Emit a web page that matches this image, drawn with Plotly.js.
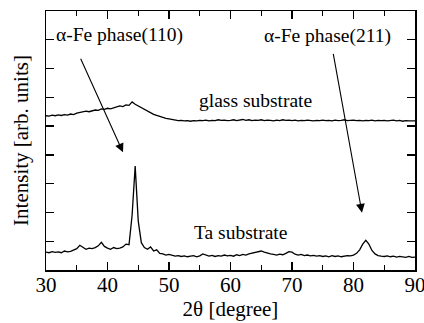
<!DOCTYPE html>
<html>
<head>
<meta charset="utf-8">
<script src="https://cdn.plot.ly/plotly-3.0.1.min.js"></script>
<style>
html,body{margin:0;padding:0;background:#fff;}
#chart{width:424px;height:323px;}
</style>
</head>
<body>
<div id="chart"></div>
<script>
// 2-theta sampling positions (degree)
const twoTheta = [
  30,30.5,31,31.5,32,32.5,33,33.5,34,34.5,
  35,35.5,36,36.5,37,37.5,38,38.5,39,39.5,
  40,40.5,41,41.5,42,42.5,43,43.5,44,44.5,
  45,45.5,46,46.5,47,47.5,48,48.5,49,49.5,
  50,50.5,51,51.5,52,52.5,53,53.5,54,54.5,
  55,55.5,56,56.5,57,57.5,58,58.5,59,59.5,
  60,60.5,61,61.5,62,62.5,63,63.5,64,64.5,
  65,65.5,66,66.5,67,67.5,68,68.5,69,69.5,
  70,70.5,71,71.5,72,72.5,73,73.5,74,74.5,
  75,75.5,76,76.5,77,77.5,78,78.5,79,79.5,
  80,80.5,81,81.5,82,82.5,83,83.5,84,84.5,
  85,85.5,86,86.5,87,87.5,88,88.5,89,89.5,
  90
];
// glass substrate intensity (arb. units, offset)
const glassIntensity = [
  5.36,5.35,5.38,5.36,5.39,5.37,5.40,5.38,5.42,5.40,
  5.45,5.48,5.50,5.52,5.50,5.54,5.56,5.55,5.60,5.58,
  5.62,5.60,5.64,5.66,5.70,5.68,5.74,5.72,5.84,5.76,
  5.70,5.64,5.57,5.51,5.46,5.41,5.37,5.33,5.30,5.27,
  5.25,5.23,5.21,5.19,5.20,5.18,5.19,5.17,5.19,5.18,
  5.20,5.19,5.21,5.18,5.20,5.19,5.22,5.20,5.21,5.19,
  5.20,5.22,5.19,5.21,5.23,5.20,5.22,5.19,5.21,5.20,
  5.22,5.19,5.21,5.20,5.18,5.21,5.19,5.22,5.20,5.21,
  5.19,5.21,5.18,5.20,5.19,5.21,5.20,5.18,5.20,5.19,
  5.21,5.19,5.20,5.18,5.21,5.19,5.20,5.22,5.19,5.20,
  5.21,5.19,5.20,5.18,5.20,5.19,5.21,5.18,5.20,5.19,
  5.20,5.18,5.19,5.21,5.18,5.20,5.17,5.19,5.18,5.19,
  5.18
];
// Ta substrate intensity (arb. units)
const taIntensity = [
  0.62,0.60,0.64,0.61,0.63,0.60,0.66,0.63,0.65,0.70,
  0.74,0.86,0.78,0.72,0.76,0.74,0.78,0.84,0.96,0.82,
  0.76,0.72,0.78,0.74,0.76,0.80,0.90,0.88,1.90,3.61,
  1.70,0.95,0.78,0.72,0.80,0.66,0.70,0.58,0.56,0.52,
  0.54,0.50,0.48,0.50,0.47,0.49,0.46,0.48,0.50,0.46,
  0.49,0.56,0.52,0.48,0.51,0.47,0.50,0.48,0.52,0.49,
  0.51,0.48,0.53,0.50,0.54,0.52,0.56,0.58,0.60,0.64,
  0.66,0.62,0.58,0.56,0.54,0.52,0.55,0.53,0.58,0.64,
  0.62,0.55,0.52,0.54,0.50,0.52,0.49,0.51,0.48,0.50,
  0.47,0.49,0.46,0.50,0.47,0.49,0.46,0.48,0.50,0.49,
  0.52,0.58,0.70,0.90,1.03,0.90,0.68,0.56,0.50,0.48,
  0.47,0.49,0.46,0.48,0.45,0.47,0.46,0.44,0.47,0.44,
  0.45
];
const xTickVals = [30,40,50,60,70,80,90];
const xTickText = ['30','40','50','60','70','80','90'];

const serif = '"Liberation Serif", "Times New Roman", serif';

const traces = [
  {x: twoTheta, y: glassIntensity, type: 'scatter', mode: 'lines',
   line: {color: '#000', width: 1.3}, hoverinfo: 'skip'},
  {x: twoTheta, y: taIntensity, type: 'scatter', mode: 'lines',
   line: {color: '#000', width: 1.3}, hoverinfo: 'skip'}
];

const layout = {
  width: 424, height: 323,
  margin: {l: 46, r: 9, t: 9, b: 52},
  paper_bgcolor: '#fff', plot_bgcolor: '#fff',
  showlegend: false,
  font: {family: serif, color: '#000', size: 21},
  xaxis: {
    range: [29.999, 90.001], tickvals: xTickVals, ticktext: xTickText,
    ticks: 'inside', ticklen: 8, tickwidth: 1.3, tickcolor: '#000',
    minor: {tickvals: [35,45,55,65,75,85], ticks: 'inside', ticklen: 5, tickwidth: 1.3, tickcolor: '#000'},
    showline: true, linecolor: '#000', linewidth: 1.5, mirror: 'allticks',
    showgrid: false, zeroline: false, ticklabeloverflow: 'allow', ticklabelstandoff: -5,
    tickfont: {family: serif, size: 21, color: '#000'},
    automargin: 'height',
    title: {text: '2θ [degree]', font: {family: serif, size: 21, color: '#000'}, standoff: 3}
  },
  yaxis: {
    range: [0, 9], dtick: 1, showticklabels: false,
    ticks: 'inside', ticklen: 8, tickwidth: 1.3, tickcolor: '#000',
    showline: true, linecolor: '#000', linewidth: 1.5, mirror: 'allticks',
    showgrid: false, zeroline: false,
    title: {text: 'Intensity [arb. units]', font: {family: serif, size: 21, color: '#000'}, standoff: 10}
  },
  annotations: [
    {x: 42.0, y: 8.18, xref: 'x', yref: 'y', text: 'α-Fe phase(110)', showarrow: false,
     font: {family: serif, size: 19.5, color: '#000'}},
    {x: 75.85, y: 8.14, xref: 'x', yref: 'y', text: 'α-Fe phase(211)', showarrow: false,
     font: {family: serif, size: 19.5, color: '#000'}},
    {x: 64.1, y: 5.90, xref: 'x', yref: 'y', text: 'glass substrate', showarrow: false,
     font: {family: serif, size: 19.5, color: '#000'}},
    {x: 61.7, y: 1.31, xref: 'x', yref: 'y', text: 'Ta substrate', showarrow: false,
     font: {family: serif, size: 19.5, color: '#000'}},
    {x: 42.52, y: 4.09, xref: 'x', yref: 'y', ax: 35.53, ay: 7.39, axref: 'x', ayref: 'y',
     text: '', showarrow: true, arrowhead: 2, arrowsize: 1.6, arrowwidth: 1.1, arrowcolor: '#000'},
    {x: 81.38, y: 1.99, xref: 'x', yref: 'y', ax: 76.67, ay: 7.56, axref: 'x', ayref: 'y',
     text: '', showarrow: true, arrowhead: 2, arrowsize: 1.6, arrowwidth: 1.1, arrowcolor: '#000'}
  ]
};

Plotly.newPlot('chart', traces, layout, {displayModeBar: false, staticPlot: true});
</script>
</body>
</html>
